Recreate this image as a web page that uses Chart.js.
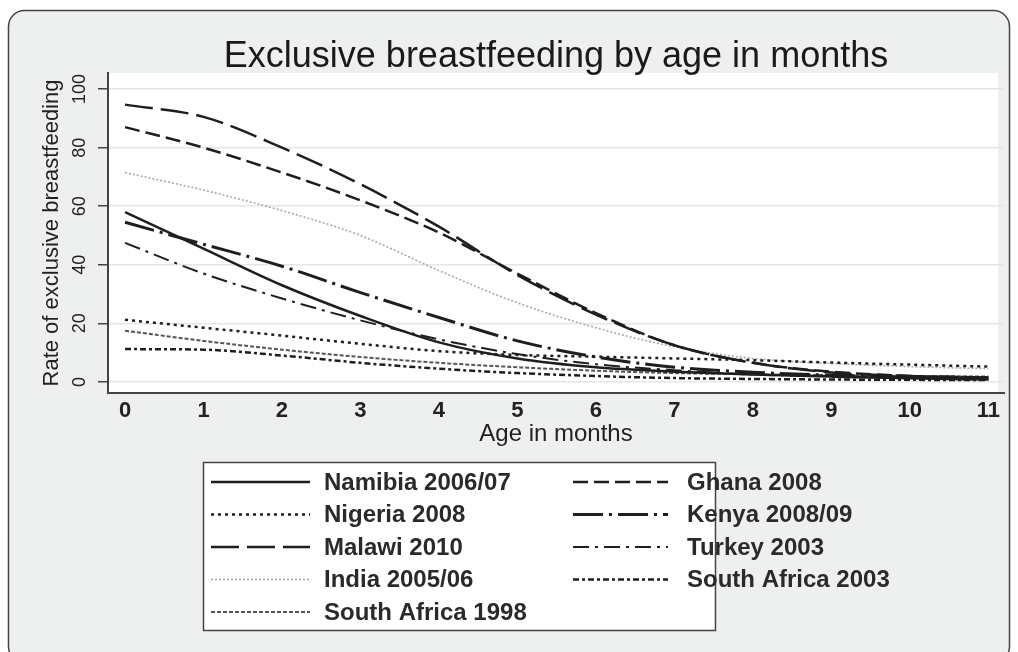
<!DOCTYPE html>
<html>
<head>
<meta charset="utf-8">
<style>
  html, body { margin: 0; padding: 0; background: #fff; }
  #wrap { width: 1018px; height: 652px; }
</style>
<script src="https://cdn.jsdelivr.net/npm/chart.js@4.4.1/dist/chart.umd.min.js"></script>
</head>
<body>
<div id="wrap"><canvas id="chart" width="1018" height="652"></canvas></div>
<script>
(function () {
  'use strict';

  var FONT = '"Liberation Sans", Arial, Helvetica, sans-serif';

  // age in months and the rate of exclusive breastfeeding (%)
  var months = [0, 1, 2, 3, 4, 5, 6, 7, 8, 9, 10, 11];
  var namibia = [58, 45.5, 33, 22.5, 13.5, 8, 5, 3.5, 2.5, 1.8, 1.2, 0.8];
  var ghana = [87, 80, 71.5, 62, 51, 37, 23.5, 12.5, 6.5, 3.5, 2, 1.5];
  var nigeria = [21.2, 18.5, 15.8, 13, 10.5, 9.2, 8.6, 8, 7.4, 6.6, 5.9, 5.2];
  var kenya = [54.5, 47, 39.5, 30.5, 22, 14, 8.5, 5, 3.3, 2.3, 1.6, 1.2];
  var malawi = [94.7, 90.5, 80, 67.5, 53, 36.5, 23, 12.5, 6.5, 3.2, 2, 1.5];
  var turkey = [47.5, 37, 28.5, 21, 14.5, 9.5, 6, 4, 2.5, 2, 1.5, 1];
  var india = [71.5, 65.5, 58.5, 50, 38, 27, 18.5, 12, 8, 6.3, 5.2, 4.5];
  var southAfrica2003 = [11.2, 11, 9, 6.5, 4.5, 3, 2, 1.3, 1, 0.8, 0.7, 0.6];
  var southAfrica1998 = [17.5, 14, 11, 8.5, 6.5, 5, 3.8, 3, 2.6, 2.3, 2, 1.8];

  var xTicks = [0, 1, 2, 3, 4, 5, 6, 7, 8, 9, 10, 11];
  var yTicks = [0, 20, 40, 60, 80, 100];

  function points(values) {
    return months.map(function (m, i) { return { x: m, y: values[i] }; });
  }

  function series(label, values, color, width, dash) {
    return {
      label: label,
      data: points(values),
      borderColor: color,
      backgroundColor: color,
      borderWidth: width,
      borderDash: dash,
      pointRadius: 0,
      pointHoverRadius: 0,
      fill: false,
      cubicInterpolationMode: 'monotone'
    };
  }

  // legend order is row by row, two columns
  var datasets = [
    series('Namibia 2006/07', namibia, '#1e1e1e', 2.5, []),
    series('Ghana 2008', ghana, '#1e1e1e', 2.5, [15, 6]),
    series('Nigeria 2008', nigeria, '#1e1e1e', 2.5, [3, 4]),
    series('Kenya 2008/09', kenya, '#1e1e1e', 3, [30, 6, 3, 6]),
    series('Malawi 2010', malawi, '#1e1e1e', 2.5, [28, 8]),
    series('Turkey 2003', turkey, '#1e1e1e', 2, [16, 6, 3, 6]),
    series('India 2005/06', india, '#b3a3a3', 1.6, [2, 2]),
    series('South Africa 2003', southAfrica2003, '#1e1e1e', 2.5, [6, 3, 3, 3]),
    series('South Africa 1998', southAfrica1998, '#555555', 2, [4, 2])
  ];

  var framePlugin = {
    id: 'frame',
    beforeDraw: function (chart) {
      var ctx = chart.ctx;
      var area = chart.chartArea;
      ctx.save();
      ctx.fillStyle = '#ffffff';
      ctx.fillRect(0, 0, chart.width, chart.height);
      ctx.beginPath();
      ctx.roundRect(8.5, 10.5, 1001, 652, 16);
      ctx.fillStyle = '#eef0ef';
      ctx.fill();
      ctx.lineWidth = 1.5;
      ctx.strokeStyle = '#444';
      ctx.stroke();
      ctx.fillStyle = '#ffffff';
      ctx.fillRect(area.left, area.top, area.right - area.left - 6, area.bottom - area.top);
      ctx.restore();
    },
    afterDraw: function (chart) {
      var ctx = chart.ctx;
      ctx.save();
      // title
      ctx.fillStyle = '#1a1a1a';
      ctx.font = '36px ' + FONT;
      ctx.textAlign = 'center';
      ctx.textBaseline = 'middle';
      ctx.fillText('Exclusive breastfeeding by age in months', 556, 57);

      // legend box
      ctx.beginPath();
      ctx.rect(203.5, 462.5, 512, 168);
      ctx.fillStyle = '#ffffff';
      ctx.fill();
      ctx.lineWidth = 1.5;
      ctx.strokeStyle = '#444';
      ctx.stroke();

      var colSample = [211, 573];
      var colText = [324, 687];
      var sampleLen = [99, 95];
      ctx.font = 'bold 24px ' + FONT;
      ctx.textAlign = 'left';
      chart.data.datasets.forEach(function (ds, i) {
        var col = i % 2;
        var row = Math.floor(i / 2);
        var y = 482 + row * 32.5;
        ctx.save();
        ctx.beginPath();
        ctx.setLineDash(ds.borderDash);
        ctx.lineWidth = ds.borderWidth;
        ctx.strokeStyle = ds.borderColor;
        ctx.moveTo(colSample[col], y);
        ctx.lineTo(colSample[col] + sampleLen[col], y);
        ctx.stroke();
        ctx.restore();
        ctx.fillStyle = '#2a2a2a';
        ctx.fillText(ds.label, colText[col], y + 1);
      });
      ctx.restore();
    }
  };

  new Chart(document.getElementById('chart'), {
    type: 'line',
    data: { datasets: datasets },
    plugins: [framePlugin],
    options: {
      responsive: false,
      animation: false,
      events: [],
      layout: { padding: { left: 30, right: 14, top: 73, bottom: 203 } },
      plugins: {
        legend: { display: false },
        title: { display: false },
        tooltip: { enabled: false }
      },
      scales: {
        x: {
          type: 'linear',
          min: -0.217,
          max: 11.2,
          afterBuildTicks: function (axis) {
            axis.ticks = xTicks.map(function (v) { return { value: v }; });
          },
          afterFit: function (scale) { scale.height = 56; },
          grid: { display: false, drawTicks: false },
          border: { display: true, color: '#444', width: 2 },
          ticks: {
            autoSkip: false,
            maxRotation: 0,
            padding: 5,
            color: '#222',
            font: { family: FONT, size: 22, weight: 'bold' }
          },
          title: {
            display: true,
            text: 'Age in months',
            color: '#222',
            padding: { top: 0, bottom: 0 },
            font: { family: FONT, size: 24, weight: 'normal' }
          }
        },
        y: {
          type: 'linear',
          min: -3.8,
          max: 105.5,
          afterBuildTicks: function (axis) {
            axis.ticks = yTicks.map(function (v) { return { value: v }; });
          },
          afterFit: function (scale) { scale.width = 78; },
          grid: {
            color: '#e6e6e6',
            lineWidth: 1.5,
            tickColor: '#444',
            tickLength: 10,
            drawTicks: true
          },
          border: { display: true, color: '#444', width: 2 },
          ticks: {
            minRotation: 90,
            maxRotation: 90,
            crossAlign: 'center',
            padding: 3,
            color: '#222',
            font: { family: FONT, size: 18, weight: 'normal' }
          },
          title: {
            display: true,
            text: 'Rate of exclusive breastfeeding',
            color: '#222',
            padding: { top: 9, bottom: 0 },
            font: { family: FONT, size: 22, weight: 'normal' }
          }
        }
      }
    }
  });
})();
</script>
</body>
</html>
